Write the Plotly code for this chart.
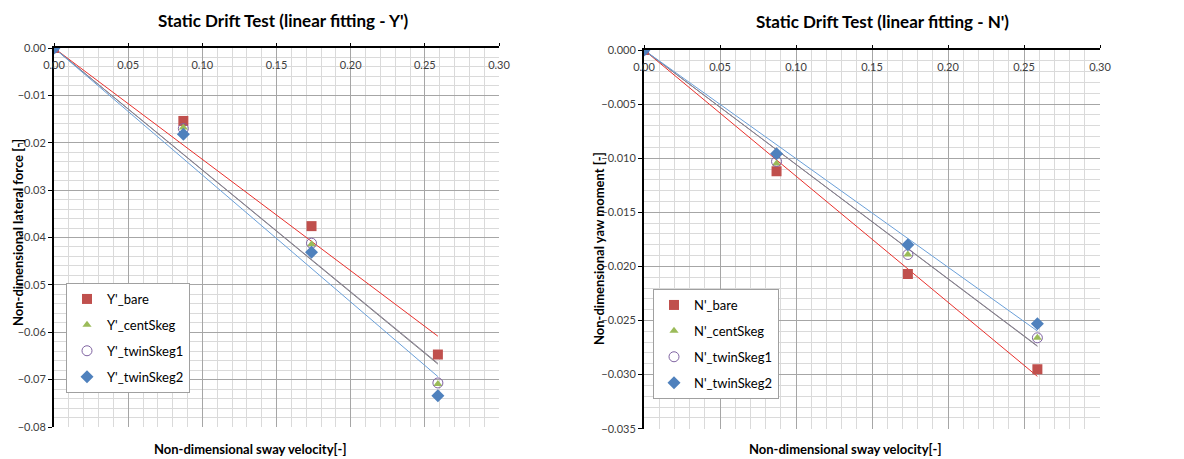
import numpy as np
import plotly.graph_objects as go

# ---------------- data ----------------
v = [0.0, 0.0872, 0.1736, 0.2588]  # non-dimensional sway velocity

Y_bare = [0.0, -0.0154, -0.0376, -0.0647]
Y_cent = [0.0, -0.0168, -0.0414, -0.0709]
Y_twin1 = [0.0, -0.0170, -0.0412, -0.0707]
Y_twin2 = [0.0, -0.0182, -0.0431, -0.0734]

N_bare = [0.0, -0.0112, -0.0207, -0.0295]
N_cent = [0.0, -0.0105, -0.0189, -0.0266]
N_twin1 = [0.0, -0.0103, -0.0189, -0.0266]
N_twin2 = [0.0, -0.0096, -0.0180, -0.0253]

Y_names = ["Y'_bare", "Y'_centSkeg", "Y'_twinSkeg1", "Y'_twinSkeg2"]
N_names = ["N'_bare", "N'_centSkeg", "N'_twinSkeg1", "N'_twinSkeg2"]

FONT = "Lato"
W, H = 1184, 459

def px_x(p):
    return p / W

def px_y(p):
    return 1 - p / H

marker_styles = [
    dict(symbol="square", size=10, color="#C0504D"),
    dict(symbol="triangle-up", size=8, color="#9BBB59"),
    dict(symbol="circle-open", size=10, color="#8064A2", line=dict(width=1)),
    dict(symbol="diamond", size=10, color="#4F81BD"),
]
trend_colors = ["#E8302C", "#7F7F7F", "#8A8294", "#6A9FD8"]

fig = go.Figure()

def add_panel(series, names, xa, ya, legend):
    # trendlines (linear fit through origin)
    xs = np.array(v)
    for s, c in zip(series, trend_colors):
        ys = np.array(s)
        slope = float(np.sum(xs * ys) / np.sum(xs * xs))
        fig.add_trace(go.Scatter(
            x=[0.0, xs.max()], y=[0.0, slope * xs.max()], mode="lines",
            line=dict(color=c, width=1), xaxis=xa, yaxis=ya,
            showlegend=False, hoverinfo="skip"))
    for i, (s, n) in enumerate(zip(series, names)):
        fig.add_trace(go.Scatter(
            x=v, y=s, mode="markers", name=n, marker=marker_styles[i],
            xaxis=xa, yaxis=ya, legend=legend, legendgroup=n))

add_panel([Y_bare, Y_cent, Y_twin1, Y_twin2], Y_names, "x", "y", "legend")
add_panel([N_bare, N_cent, N_twin1, N_twin2], N_names, "x2", "y2", "legend2")

tickfont = dict(family=FONT, size=11, color="#404040")
MAJ = "#A6A6A6"
MIN = "#DADADA"

def xaxis_cfg(domain, anchor):
    return dict(
        domain=domain, anchor=anchor, side="top", range=[0, 0.30],
        dtick=0.05, tick0=0, showticklabels=False, showline=True,
        linecolor="black", linewidth=2, ticks="outside", ticklen=3,
        tickcolor="black", automargin=False,
        showgrid=True, gridcolor=MAJ, gridwidth=1, zeroline=False,
        minor=dict(dtick=0.01, showgrid=True, gridcolor=MIN, gridwidth=1, ticks=""),
    )

def xlabel_cfg(domain, overlay, pos):
    # label-only axis sitting just under the top (y = 0) axis line
    return dict(
        domain=domain, overlaying=overlay, anchor="free", position=pos,
        side="bottom", range=[0, 0.30], dtick=0.05, tick0=0,
        tickformat=".2f", tickfont=tickfont, showline=False, ticks="",
        showgrid=False, zeroline=False, automargin=False,
    )

def yaxis_cfg(domain, anchor, rng, dtick, mdtick, fmt):
    return dict(
        domain=domain, anchor=anchor, range=rng, dtick=dtick, tick0=0,
        tickformat=fmt, showline=True, linecolor="black", linewidth=2,
        ticks="outside", ticklen=4, tickcolor="black", tickfont=tickfont,
        automargin=False,
        showgrid=True, gridcolor=MAJ, gridwidth=1, zeroline=False,
        minor=dict(dtick=mdtick, showgrid=True, gridcolor=MIN, gridwidth=1, ticks=""),
    )

legend_common = dict(
    bgcolor="white", bordercolor="#A0A0A0", borderwidth=1,
    font=dict(family=FONT, size=13, color="black"),
    tracegroupgap=6, xanchor="left", yanchor="top", itemwidth=30,
)

dom1 = [px_x(54), px_x(499)]
dom2 = [px_x(644), px_x(1100)]

fig.update_layout(
    width=W, height=H, margin=dict(l=0, r=0, t=0, b=0, autoexpand=False),
    paper_bgcolor="white", plot_bgcolor="white",
    font=dict(family=FONT),
    xaxis=xaxis_cfg(dom1, "y"),
    yaxis=yaxis_cfg([px_y(427), px_y(48)], "x", [-0.08, 0.0], 0.01, 0.002, ".2f"),
    xaxis2=xaxis_cfg(dom2, "y2"),
    yaxis2=yaxis_cfg([px_y(428.7), px_y(50)], "x2", [-0.035, 0.0], 0.005, 0.001, ".3f"),
    xaxis3=xlabel_cfg(dom1, "x", px_y(57)),
    xaxis4=xlabel_cfg(dom2, "x2", px_y(59)),
    legend=dict(x=px_x(66), y=px_y(283), **legend_common),
    legend2=dict(x=px_x(653), y=px_y(289), **legend_common),
    showlegend=True,
)

# invisible traces so the label-only axes are rendered
for xa, ya in (("x3", "y"), ("x4", "y2")):
    fig.add_trace(go.Scatter(x=[None], y=[None], xaxis=xa, yaxis=ya,
                             showlegend=False, hoverinfo="skip"))

titlefont = dict(family=FONT, size=17, color="black")
axfont = dict(family=FONT, size=13, color="black")
annots = [
    dict(text="<b>Static Drift Test (linear fitting - Y')</b>", x=px_x(283), y=px_y(21), font=titlefont),
    dict(text="<b>Static Drift Test (linear fitting - N')</b>", x=px_x(882), y=px_y(22), font=titlefont),
    dict(text="<b>Non-dimensional sway velocity[-]</b>", x=px_x(250), y=px_y(449), font=axfont),
    dict(text="<b>Non-dimensional sway velocity[-]</b>", x=px_x(845), y=px_y(449), font=axfont),
    dict(text="<b>Non-dimensional lateral force [-]</b>", x=px_x(18), y=px_y(233), font=axfont, textangle=-90),
    dict(text="<b>Non-dimensional yaw moment [-]</b>", x=px_x(599), y=px_y(249), font=axfont, textangle=-90),
]
for a in annots:
    fig.add_annotation(xref="paper", yref="paper", showarrow=False,
                       xanchor="center", yanchor="middle", **a)

fig.write_html("out.html", config={"displayModeBar": False},
               post_script="document.body.style.margin='0';document.body.style.overflow='hidden';")
